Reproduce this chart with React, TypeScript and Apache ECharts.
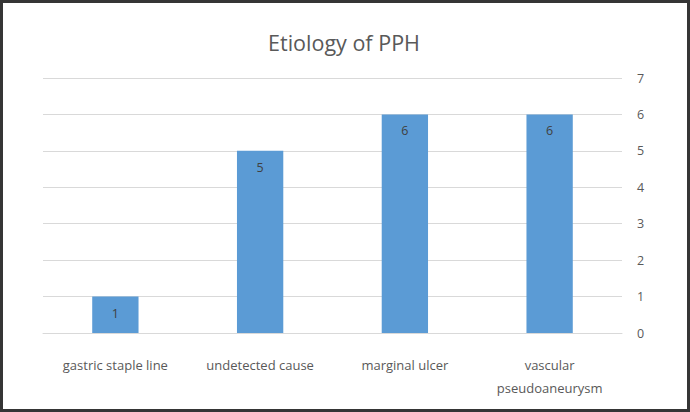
import React, { useEffect, useRef } from "react";
import * as echarts from "echarts";

const categories = ["gastric staple line", "undetected cause", "marginal ulcer", "vascular\npseudoaneurysm"];
const values = [1, 5, 6, 6];
const chartTitle = "Etiology of PPH";

export default function App() {
  const ref = useRef<HTMLDivElement>(null);
  useEffect(() => {
    const chart = echarts.init(ref.current!, null, { renderer: "svg" });
    chart.setOption({
      animation: false,
      backgroundColor: "#ffffff",
      title: {
        text: chartTitle,
        left: 339,
        textAlign: "center",
        top: 26,
        textStyle: { fontFamily: "Open Sans", fontSize: 21.5, fontWeight: "normal", color: "#595959" },
      },
      graphic: [
        {
          type: "rect",
          shape: { x: 1.5, y: 1.5, width: 687, height: 409 },
          style: { fill: "none", stroke: "#353535", lineWidth: 3 },
          silent: true,
        },
      ],
      grid: { left: 43, right: 68, top: 78, bottom: 79 },
      xAxis: {
        type: "category",
        data: categories,
        axisLine: { show: true, lineStyle: { color: "#d9d9d9", width: 1 } },
        axisTick: { show: false },
        axisLabel: {
          color: "#595959",
          fontFamily: "Open Sans",
          fontSize: 13,
          margin: 20,
          lineHeight: 23,
          interval: 0,
        },
      },
      yAxis: {
        type: "value",
        position: "right",
        min: 0,
        max: 7,
        interval: 1,
        axisLine: { show: false },
        axisTick: { show: false },
        splitLine: { lineStyle: { color: "#d9d9d9", width: 1 } },
        axisLabel: { color: "#595959", fontFamily: "Open Sans", fontSize: 12.5, margin: 15 },
      },
      series: [
        {
          type: "bar",
          data: values,
          barWidth: "32%",
          itemStyle: { color: "#5b9bd5" },
          label: {
            show: true,
            position: "insideTop",
            distance: 10,
            color: "#404040",
            fontFamily: "Open Sans",
            fontSize: 12.5,
          },
        },
      ],
    });
    return () => chart.dispose();
  }, []);
  return (
    <div
      ref={ref}
      style={{ position: "absolute", left: 0, top: 0, width: 690, height: 412 }}
    />
  );
}
